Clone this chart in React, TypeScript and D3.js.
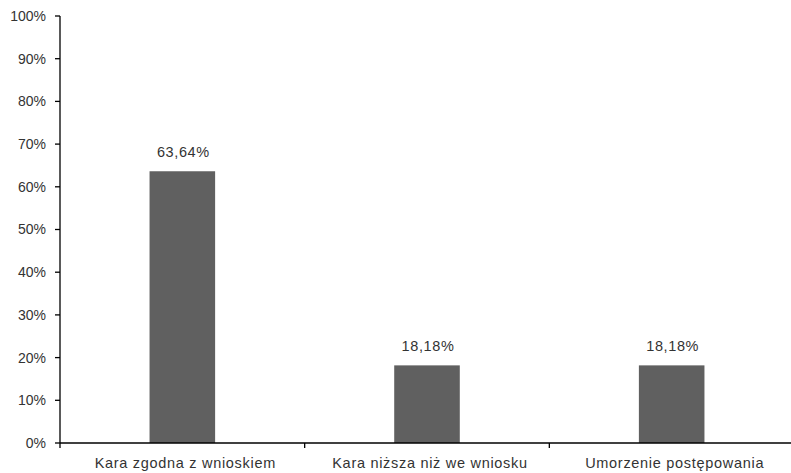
import React from "react";
import * as d3 from "d3";

const categories = ["Kara zgodna z wnioskiem", "Kara niższa niż we wniosku", "Umorzenie postępowania"];
const values = [63.64, 18.18, 18.18];
const valueLabels = ["63,64%", "18,18%", "18,18%"];
const yTicks = [0, 10, 20, 30, 40, 50, 60, 70, 80, 90, 100];

const W = 791;
const H = 473;
const left = 60;
const right = 794;
const top = 16;
const bottom = 443;
const font = "'Liberation Sans', Arial, sans-serif";

export default function App() {
  const x = d3.scaleBand<string>().domain(categories).range([left, right]).paddingInner(0).paddingOuter(0);
  const y = d3.scaleLinear().domain([0, 100]).range([bottom, top]);
  const barW = x.bandwidth() * 0.268;
  const boundaries = [...categories.map((c) => x(c) as number), right];
  return (
    <svg width={W} height={H} style={{ position: "absolute", left: 0, top: 0 }}>
      <rect width={W} height={H} fill="#fff" />
      {categories.map((c, i) => {
        const cx = (x(c) as number) + x.bandwidth() / 2;
        return (
          <g key={c}>
            <rect x={cx - barW / 2} y={y(values[i])} width={barW} height={bottom - y(values[i])} fill="#606060" />
            <text x={cx + 1} y={y(values[i]) - 14} textAnchor="middle" fontFamily={font} fontSize={14.5} letterSpacing={0.6} fill="#333">
              {valueLabels[i]}
            </text>
            <text x={cx + 3} y={468} textAnchor="middle" fontFamily={font} fontSize={14.5} letterSpacing={0.7} fill="#333">
              {c}
            </text>
          </g>
        );
      })}
      <line x1={left} x2={left} y1={top} y2={bottom} stroke="#000" strokeWidth={1.3} />
      <line x1={left} x2={W} y1={bottom} y2={bottom} stroke="#000" strokeWidth={1.3} />
      {yTicks.map((t) => (
        <g key={t}>
          <line x1={left - 5} x2={left} y1={y(t)} y2={y(t)} stroke="#000" strokeWidth={1.3} />
          <text x={46} y={y(t)} dy="0.35em" textAnchor="end" fontFamily={font} fontSize={14} fill="#333">
            {t}%
          </text>
        </g>
      ))}
      {boundaries.map((b, i) => (
        <line key={i} x1={b} x2={b} y1={bottom} y2={bottom + 5} stroke="#000" strokeWidth={1.3} />
      ))}
    </svg>
  );
}
